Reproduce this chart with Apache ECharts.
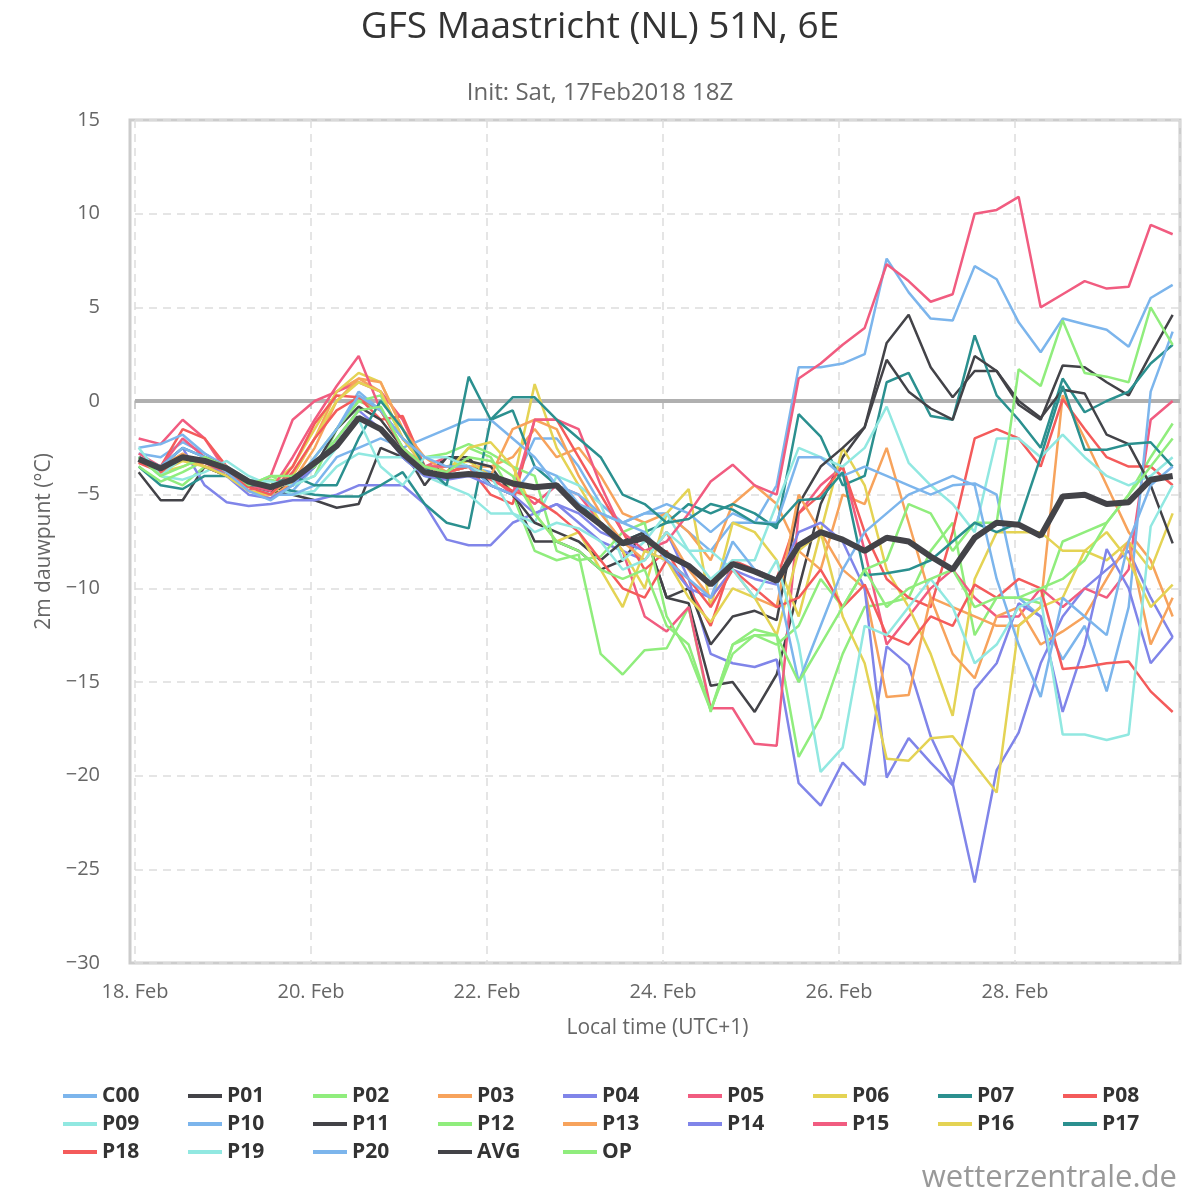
<!DOCTYPE html>
<html><head><meta charset="utf-8">
<script src="https://cdn.jsdelivr.net/npm/echarts@6/dist/echarts.min.js"></script>
<style>html,body{margin:0;padding:0;background:#fff}#c{width:1200px;height:1200px}</style>
</head><body><div id="c"></div>
<script>
// hours since 18 Feb 00:00 local, step 6h, start 01:00
const startHour = 1, stepHours = 6;
const xTickDays = ["18. Feb","20. Feb","22. Feb","24. Feb","26. Feb","28. Feb"];
const yTicks = [15,10,5,0,-5,-10,-15,-20,-25,-30];

const C00 = [-2.8,-3.0,-2.2,-2.8,-3.5,-4.5,-5.0,-4.8,-3.5,-1.5,0.5,-0.5,-2.0,-3.5,-3.8,-3.5, -3.8,-4.5,-2.0,-2.0,-3.5,-5.5,-6.5,-6.0,-6.0,-7.0,-8.0,-6.5,-6.5,-4.5, 1.8,1.8,2.0,2.5,7.6,5.8,4.4,4.3,7.2,6.5,4.2,2.6,4.4,4.1,3.8,2.9,5.5,6.2];
const P01 = [-3.8,-5.3,-5.3,-3.5,-4.0,-4.5,-4.8,-5.0,-5.3,-5.7,-5.5,-2.5,-3.0,-4.0,-3.0,-3.0, -4.5,-5.0,-7.5,-7.5,-8.0,-9.0,-8.5,-7.0,-10.5,-10.8,-15.2,-15.0,-16.6,-14.6, -10,-5.5,-3.0,-1.4,3.1,4.6,1.8,0.2,1.6,1.6,-0.2,-1.0,1.9,1.8,1.0,0.3,2.5,4.6];
const P02 = [-3.0,-4.0,-4.5,-3.5,-3.8,-4.5,-4.0,-4.5,-4.0,-1.5,0.0,-0.5,-2.5,-3.5,-3.8,-2.5, -3.0,-5.0,-8.0,-8.5,-8.2,-13.5,-14.6,-13.3,-13.2,-11.0,-16.6,-13.0,-12.5,-12.5, -19.0,-16.9,-13.5,-11.0,-10.8,-10.5,-8.0,-6.5,-12.5,-10.5,-10.5,-10.8,-7.5,-7.0,-6.5,-5.0,-3.0,-1.2];
const P03 = [-3.2,-3.8,-3.0,-3.2,-3.5,-4.5,-5.0,-4.0,-2.0,0.5,1.2,0.5,-2.0,-3.5,-3.5,-3.5, -3.5,-3.0,-1.5,-3.0,-2.5,-4.0,-6.0,-6.5,-6.0,-7.0,-8.5,-5.5,-4.5,-5.5, -8.0,-9.0,-5.0,-5.5,-2.5,-6.5,-10.5,-11.0,-11.5,-12.0,-12.0,-11.0,0.3,-2.0,-4.5,-7.0,-8.5,-11.5];
const P04 = [-3.0,-3.5,-2.5,-4.5,-5.4,-5.6,-5.5,-5.3,-5.3,-5.0,-4.5,-4.5,-4.5,-5.5,-7.4,-7.7, -7.7,-6.5,-6.0,-5.5,-6.5,-7.5,-8.0,-8.5,-7.0,-9.5,-13.5,-14.0,-14.2,-13.8, -20.4,-21.6,-19.3,-20.5,-13.1,-14.1,-17.9,-20.4,-25.7,-19.7,-17.7,-14.0,-11.5,-10.0,-9.0,-8.0,-10.5,-12.6];
const P05 = [-2.0,-2.3,-1.0,-2.0,-3.8,-4.8,-4.0,-1.0,0.0,0.5,1.0,0.5,-1.0,-3.5,-3.0,-3.5, -4.0,-4.5,-5.5,-4.5,-5.0,-6.5,-8.0,-11.5,-12.3,-11.0,-16.4,-16.4,-18.3,-18.4, -6.0,-4.5,-3.5,-8.0,-13.0,-11.5,-10.0,-9.0,-10.5,-11.5,-11.5,-10.0,-11.0,-10.0,-10.5,-9.0,-1.0,0.0];
const P06 = [-3.0,-3.8,-3.5,-3.0,-3.5,-4.5,-4.5,-3.5,-1.5,0.5,1.5,1.0,-1.5,-3.5,-3.5,-3.2, -4.0,-4.5,0.9,-2.5,-4.5,-6.5,-8.0,-10.0,-6.0,-4.7,-11.0,-6.5,-7.0,-8.5, -11.5,-7.0,-2.5,-4.5,-9.0,-11.0,-13.5,-16.8,-9.5,-7.0,-7.0,-7.0,-8.0,-8.0,-8.5,-7.5,-9.0,-6.0];
const P07 = [-3.5,-4.5,-4.7,-4.0,-4.0,-4.3,-4.5,-4.8,-5.0,-5.1,-5.1,-4.5,-3.8,-5.5,-6.5,-6.8, -1.0,-0.5,-3.5,-4.5,-5.5,-6.5,-7.5,-7.0,-6.5,-5.5,-6.0,-5.5,-6.0,-6.8, -0.7,-1.9,-4.5,-4.0,1.0,1.5,-0.8,-1.0,3.5,0.3,-1.0,-2.5,1.2,-0.6,0.0,0.5,2.0,3.0];
const P08 = [-3.0,-3.5,-1.5,-2.0,-3.5,-4.8,-5.0,-3.5,-1.2,0.3,0.2,-1.0,-0.8,-3.5,-3.8,-3.5, -5.0,-5.5,-1.0,-1.0,-3.0,-5.0,-7.0,-9.0,-8.0,-10.0,-12.0,-8.5,-9.0,-9.5, -6.0,-5.0,-3.5,-7.0,-9.5,-10.5,-11.0,-7.0,-2.0,-1.5,-2.0,-3.5,0.1,-1.5,-3.0,-3.5,-3.5,-4.5];
const P09 = [-3.0,-4.0,-4.2,-3.8,-3.2,-4.0,-4.5,-5.0,-4.8,-3.5,-2.8,-3.0,-3.0,-4.0,-4.5,-5.0, -6.0,-6.0,-6.5,-4.0,-4.5,-5.5,-8.5,-7.5,-6.0,-8.0,-9.5,-8.5,-8.5,-5.5, -2.5,-3.0,-3.5,-2.5,-0.3,-3.3,-4.5,-5.5,-7.0,-2.0,-2.0,-3.0,-1.8,-3.0,-4.0,-4.5,-4.0,-3.0];
const P10 = [-2.5,-2.3,-1.8,-2.8,-3.5,-4.5,-5.0,-5.0,-4.5,-3.0,-2.5,-2.0,-2.5,-2.0,-1.5,-1.0, -1.0,-2.0,-3.0,-4.5,-5.0,-6.0,-6.5,-6.0,-5.5,-6.0,-7.0,-6.0,-6.5,-6.5, -3.0,-3.0,-4.0,-3.5,-4.0,-4.5,-5.0,-4.5,-4.4,-5.0,-10.5,-11.5,-13.8,-12.0,-15.5,-11.0,0.5,3.7];
const P11 = [-3.0,-3.8,-3.0,-3.5,-4.0,-4.5,-4.8,-4.5,-3.5,-1.5,-0.3,-1.0,-2.5,-4.5,-3.0,-3.2, -3.5,-5.0,-6.5,-7.0,-7.5,-8.5,-7.5,-7.0,-10.5,-10.0,-13.0,-11.5,-11.2,-11.7, -5.5,-3.5,-2.5,-1.4,2.2,0.5,-0.4,-1.0,2.4,1.6,0.0,-0.9,0.6,0.4,-1.8,-2.3,-4.5,-7.6];
const P12 = [-3.5,-4.3,-3.8,-3.2,-3.8,-4.5,-4.2,-4.5,-3.0,-1.5,0.0,0.3,-2.0,-3.0,-2.8,-2.3, -2.8,-3.5,-4.0,-8.0,-8.5,-8.3,-7.0,-6.5,-11.5,-13.5,-16.5,-13.5,-12.5,-13.0, -12.0,-9.5,-11.0,-9.0,-8.5,-5.5,-6.0,-8.0,-6.5,-6.5,1.7,0.8,4.3,1.5,1.3,1.0,5.0,3.0];
const P13 = [-3.3,-3.5,-2.8,-3.5,-3.8,-4.8,-5.2,-4.3,-2.5,0.0,1.2,1.0,-1.5,-3.0,-3.8,-3.5, -4.0,-1.5,-1.0,-1.5,-4.0,-6.0,-7.5,-8.5,-7.0,-9.0,-10.5,-9.0,-10.5,-11.0, -5.0,-7.0,-9.0,-10.0,-15.8,-15.7,-10.5,-13.5,-14.8,-11.5,-11.0,-13.0,-12.3,-11.5,-9.5,-7.5,-13.0,-10.5];
const P14 = [-3.2,-3.8,-3.0,-3.2,-4.0,-5.0,-5.2,-4.5,-3.5,-2.0,-0.5,-1.5,-3.0,-4.0,-4.2,-4.0, -4.5,-5.0,-6.0,-5.5,-6.0,-7.0,-7.5,-8.0,-8.5,-10.0,-10.5,-9.0,-9.5,-9.8, -7.0,-6.5,-7.5,-10.0,-20.1,-18.0,-19.3,-20.5,-15.4,-14.0,-10.8,-11.5,-16.6,-13.0,-7.9,-10.0,-14.0,-12.6];
const P15 = [-2.8,-3.5,-2.0,-3.0,-3.5,-4.5,-4.8,-3.0,-1.0,0.8,2.4,-0.5,-2.0,-3.5,-3.5,-3.5, -4.0,-5.0,-1.0,-1.0,-1.5,-4.5,-7.0,-8.0,-7.5,-6.0,-4.3,-3.4,-4.5,-5.0, 1.2,2.0,3.0,3.9,7.3,6.4,5.3,5.7,10.0,10.2,10.9,5.0,5.7,6.4,6.0,6.1,9.4,8.9];
const P16 = [-3.0,-3.8,-3.2,-3.5,-4.0,-4.8,-5.0,-4.0,-2.0,0.0,1.0,0.5,-2.0,-3.5,-3.8,-2.5, -2.2,-3.5,-6.0,-7.5,-7.0,-9.0,-11.0,-8.0,-8.5,-10.5,-11.8,-10.0,-10.5,-12.5, -8.0,-7.0,-11.5,-14.0,-19.1,-19.2,-18.0,-17.9,-19.4,-20.9,-12.0,-11.0,-10.5,-8.0,-7.0,-8.5,-11.0,-9.8];
const P17 = [-3.0,-3.5,-2.5,-3.0,-3.5,-4.5,-4.5,-4.0,-4.5,-4.5,-2.0,0.0,-1.5,-3.5,-4.5,1.3, -1.0,0.2,0.2,-1.0,-2.0,-3.0,-5.0,-5.5,-6.5,-6.3,-5.5,-5.8,-6.5,-6.6, -5.3,-5.2,-3.8,-9.3,-9.2,-9.0,-8.5,-7.5,-6.5,-7.0,-6.5,-3.0,0.8,-2.6,-2.6,-2.3,-2.2,-3.5];
const P18 = [-3.3,-3.8,-3.0,-3.3,-3.8,-4.6,-5.0,-3.8,-2.0,-0.5,0.2,-0.5,-2.5,-3.5,-3.8,-3.5, -4.2,-4.8,-5.2,-6.0,-7.0,-8.5,-10.0,-10.5,-8.5,-9.5,-11.0,-9.0,-10.0,-11.0, -10.5,-9.0,-11.0,-9.8,-12.5,-13.0,-11.5,-12.0,-9.8,-10.5,-9.5,-10.0,-14.3,-14.2,-14.0,-13.9,-15.5,-16.6];
const P19 = [-2.5,-4.0,-3.0,-3.2,-3.5,-4.2,-4.3,-4.5,-4.0,-2.5,-1.0,-3.5,-4.5,-3.0,-3.0,-3.5, -4.0,-6.0,-7.0,-6.5,-6.8,-7.5,-9.0,-8.5,-7.0,-8.0,-8.0,-9.0,-10.5,-8.5, -13.0,-19.8,-18.5,-12.0,-12.5,-11.0,-9.5,-11.0,-14.0,-13.0,-11.0,-10.5,-17.8,-17.8,-18.1,-17.8,-6.7,-4.5];
const P20 = [-3.0,-3.5,-2.5,-3.0,-3.8,-4.8,-5.3,-4.5,-3.0,-1.5,0.3,-0.5,-2.0,-3.0,-3.5,-3.5, -4.5,-5.0,-3.5,-4.0,-5.5,-6.0,-6.5,-7.0,-8.5,-9.5,-10.5,-7.5,-9.0,-9.5, -15.0,-12.0,-9.0,-7.0,-6.0,-5.0,-4.5,-4.0,-4.5,-9.5,-13.0,-15.8,-10.5,-11.5,-12.5,-7.5,-4.5,-3.5];
const AVG = [-3.1,-3.6,-3.0,-3.2,-3.6,-4.3,-4.6,-4.2,-3.3,-2.4,-0.9,-1.5,-2.8,-3.8,-4.0,-3.9, -4.0,-4.4,-4.6,-4.5,-5.7,-6.6,-7.6,-7.3,-8.2,-8.8,-9.8,-8.7,-9.1,-9.6, -7.7,-7.0,-7.4,-8.0,-7.3,-7.5,-8.3,-9.0,-7.3,-6.5,-6.6,-7.2,-5.1,-5.0,-5.5,-5.4,-4.2,-4.0];
const OP = [-3.0,-4.0,-3.5,-3.0,-3.5,-4.5,-4.0,-4.0,-3.5,-2.0,-0.5,-0.3,-2.5,-3.5,-3.8,-3.0, -3.2,-4.0,-6.0,-7.5,-8.0,-9.0,-9.5,-9.0,-12.0,-13.0,-16.5,-13.0,-12.2,-12.5, -15.0,-13.0,-11.0,-9.0,-11.0,-10.0,-9.5,-9.0,-11.0,-10.5,-10.5,-10.0,-9.5,-8.5,-6.5,-5.0,-3.5,-2.0];

const names = ["C00","P01","P02","P03","P04","P05","P06","P07","P08","P09","P10","P11","P12","P13","P14","P15","P16","P17","P18","P19","P20","AVG","OP"];
const values = [C00,P01,P02,P03,P04,P05,P06,P07,P08,P09,P10,P11,P12,P13,P14,P15,P16,P17,P18,P19,P20,AVG,OP];
const palette = ['#7cb5ec','#434348','#90ed7d','#f7a35c','#8085e9','#f15c80','#e4d354','#2b908f','#f45b5b','#91e8e1'];

const series = names.map((n,k)=>{
  const isAvg = n==="AVG";
  const color = isAvg ? '#434348' : (n==="OP" ? '#90ed7d' : palette[k%10]);
  const s = {
    name:n, type:'line', showSymbol:false, symbol:'none',
    data: values[k].map((v,i)=>[startHour+i*stepHours, v]),
    lineStyle:{width: isAvg?6:2.5, color}, itemStyle:{color},
    z: isAvg?10:2, emphasis:{disabled:true}
  };
  if (k===0) s.markLine = {silent:true, symbol:'none', label:{show:false},
    lineStyle:{color:'#b0b0b0', width:4, type:'solid'}, data:[{yAxis:0}], z:1};
  return s;
});

const legends = [];
for (let c=0;c<9;c++){
  const d = [names[c], names[c+9], names[c+18]].filter(Boolean);
  legends.push({data:d, orient:'vertical', left:58+125*c, top:1080, itemGap:6, itemWidth:34, itemHeight:4, icon:'rect',
    textStyle:{fontSize:21, fontWeight:'bold', color:'#333', lineHeight:22}});
}

const chart = echarts.init(document.getElementById('c'));
const font = "'Open Sans', sans-serif";
chart.setOption({
  animation:false,
  textStyle:{fontFamily:font},
  title:[
    {text:"GFS Maastricht (NL) 51N, 6E", left:'center', top:4, textStyle:{fontSize:37, fontWeight:'normal', color:'#333', fontFamily:font}},
    {text:"Init: Sat, 17Feb2018 18Z", left:'center', top:76, textStyle:{fontSize:24, fontWeight:'normal', color:'#666', fontFamily:font}},
    {text:"wetterzentrale.de", right:18, top:1158, textStyle:{fontSize:31, fontWeight:'normal', color:'#999', fontFamily:font}}
  ],
  grid:{left:135, right:20, top:120, bottom:237, show:false},
  graphic:[{type:'rect', shape:{x:130,y:120,width:1050,height:843}, style:{fill:null, stroke:'#ccc', lineWidth:3}, z:0, silent:true}],
  xAxis:{type:'value', min:0, max:285, interval:48,
    name:"Local time (UTC+1)", nameLocation:'middle', nameGap:55, nameTextStyle:{fontSize:21, color:'#666'},
    axisLine:{show:false}, axisTick:{show:true, length:8, lineStyle:{color:'#ccc', width:2}},
    axisLabel:{fontSize:20, color:'#666', margin:19, showMaxLabel:false, formatter:v=>{const i=Math.round(v/48); return xTickDays[i]||'';}},
    splitLine:{show:true, lineStyle:{type:[8,6], color:'#ddd', width:1.5}}},
  yAxis:{type:'value', min:-30, max:15, interval:5,
    name:"2m dauwpunt (°C)", nameLocation:'middle', nameGap:76, nameTextStyle:{fontSize:21, color:'#666'},
    axisLine:{show:false}, axisTick:{show:false},
    axisLabel:{fontSize:20, color:'#666', margin:35, formatter:v=>String(v).replace('-','\u2212')},
    splitLine:{show:true, lineStyle:{type:[8,6], color:'#ddd', width:1.5}}},
  legend:legends,
  series
});
</script></body></html>
